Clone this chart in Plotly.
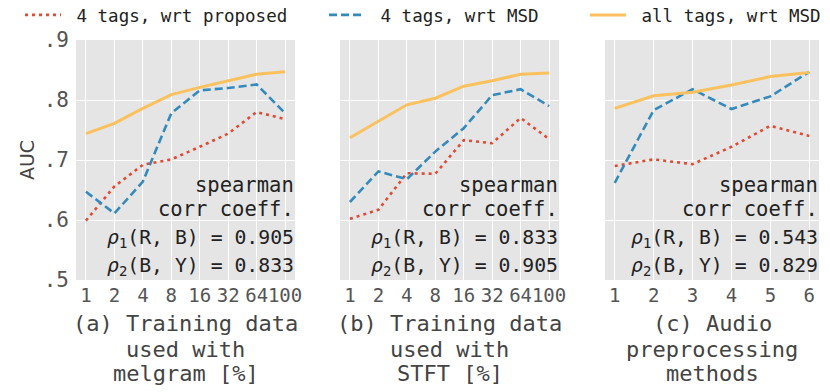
import plotly.graph_objects as go

# ---- data ----
x_labels_a = ["1", "2", "4", "8", "16", "32", "64", "100"]
x_labels_b = ["1", "2", "4", "8", "16", "32", "64", "100"]
x_labels_c = ["1", "2", "3", "4", "5", "6"]

a_red = [0.599, 0.656, 0.692, 0.701, 0.722, 0.744, 0.780, 0.768]
a_blue = [0.647, 0.611, 0.664, 0.778, 0.816, 0.820, 0.826, 0.778]
a_yellow = [0.744, 0.761, 0.786, 0.809, 0.821, 0.832, 0.843, 0.847]

b_red = [0.602, 0.617, 0.678, 0.677, 0.733, 0.728, 0.770, 0.735]
b_blue = [0.630, 0.681, 0.668, 0.714, 0.753, 0.808, 0.818, 0.790]
b_yellow = [0.737, 0.764, 0.792, 0.803, 0.823, 0.832, 0.843, 0.845]

c_red = [0.690, 0.701, 0.693, 0.722, 0.757, 0.740]
c_blue = [0.662, 0.783, 0.818, 0.785, 0.806, 0.847]
c_yellow = [0.786, 0.807, 0.813, 0.825, 0.839, 0.846]

y_tickvals = [0.5, 0.6, 0.7, 0.8, 0.9]
y_ticktext = [".5", ".6", ".7", ".8", ".9"]

series_names = ["4 tags, wrt proposed", "4 tags, wrt MSD", "all tags, wrt MSD"]

rho_a = ["0.905", "0.833"]
rho_b = ["0.833", "0.905"]
rho_c = ["0.543", "0.829"]

subtitles = [
    ["(a) Training data", "used with", "melgram [%]"],
    ["(b) Training data", "used with", "STFT [%]"],
    ["(c) Audio", "preprocessing", "methods"],
]

# ---- style ----
RED, BLUE, YEL = "#E24A33", "#348ABD", "#FBC15E"
MONO = "DejaVu Sans Mono"

fig = go.Figure()

panels = [
    (x_labels_a, a_red, a_blue, a_yellow, rho_a),
    (x_labels_b, b_red, b_blue, b_yellow, rho_b),
    (x_labels_c, c_red, c_blue, c_yellow, rho_c),
]
domains = [[0.0, 0.2948], [0.3553, 0.6501], [0.7120, 1.0]]

styles = [
    dict(color=RED, width=2.6, dash="3px,4px"),
    dict(color=BLUE, width=2.6, dash="8px,4px"),
    dict(color=YEL, width=3, dash="solid"),
]
legend_ids = ["legend", "legend2", "legend3"]

for p, (labels, r, b, yv, rho) in enumerate(panels):
    xs = list(range(len(labels)))
    suf = "" if p == 0 else str(p + 1)
    for k, vals in enumerate([r, b, yv]):
        fig.add_trace(go.Scatter(
            x=xs, y=vals, mode="lines", line=styles[k],
            name="\u00a0" + series_names[k], showlegend=(p == 0),
            legend=legend_ids[k],
            xaxis="x" + suf, yaxis="y" + suf,
        ))
    n = len(labels)
    pad = 0.05 * (n - 1)
    fig.update_layout(**{
        "xaxis" + suf: dict(
            domain=domains[p], range=[-pad, n - 1 + pad],
            tickvals=xs, ticktext=labels, showgrid=True, gridcolor="white",
            gridwidth=1.3, zeroline=False, ticks="", ticklabelstandoff=2,
            tickangle=0,
            tickfont=dict(family=MONO, size=19, color="#555555"),
            anchor="y" + suf,
        ),
        "yaxis" + suf: dict(
            domain=[0, 1], range=[0.5, 0.9], tickvals=y_tickvals,
            ticktext=y_ticktext, showgrid=True, gridcolor="white",
            gridwidth=1.3, zeroline=False, ticks="",
            showticklabels=(p == 0), ticklabelstandoff=6,
            tickfont=dict(family=MONO, size=21, color="#555555"),
            anchor="x" + suf,
        ),
    })
    xd = "x" + suf + " domain"
    yd = "y" + suf + " domain"
    lines = ["spearman", "corr coeff.",
             "<i>ρ</i><sub>1</sub>(R, B) = " + rho[0],
             "<i>ρ</i><sub>2</sub>(B, Y) = " + rho[1]]
    ypos = [0.396, 0.296, 0.172, 0.055]
    sizes = [20.5, 20.5, 19.8, 19.8]
    for t, yy, sz in zip(lines, ypos, sizes):
        fig.add_annotation(xref=xd, yref=yd, x=1, y=yy, text=t,
                           showarrow=False, xanchor="right", yanchor="middle",
                           xshift=1,
                           font=dict(family=MONO, size=sz, color="#222222"))
    for t, yy in zip(subtitles[p], [-0.1833, -0.2875, -0.3875]):
        fig.add_annotation(xref=xd, yref="paper", x=0.5, y=yy, text=t,
                           showarrow=False, xanchor="center", yanchor="middle",
                           font=dict(family=MONO, size=22, color="#444444"))

fig.update_layout(yaxis_title=dict(text="AUC", font=dict(family="DejaVu Sans", size=19, color="#444444"), standoff=4))

leg_common = dict(orientation="h", yanchor="middle", xanchor="left",
                  bgcolor="rgba(0,0,0,0)", itemwidth=36,
                  font=dict(family=MONO, size=17.5, color="#222222"))
fig.update_layout(
    legend=dict(x=-0.0754, y=1.104, **leg_common),
    legend2=dict(x=0.3338, y=1.104, **leg_common),
    legend3=dict(x=0.685, y=1.104, **leg_common),
)

fig.update_layout(
    width=830, height=392,
    margin=dict(l=76, r=11, t=40, b=112, autoexpand=False),
    paper_bgcolor="white", plot_bgcolor="#E5E5E5",
    font=dict(family=MONO),
)

fig.write_html("out.html", config={"displayModeBar": False},
               post_script="document.body.style.margin='0px';document.body.style.overflow='hidden';")
